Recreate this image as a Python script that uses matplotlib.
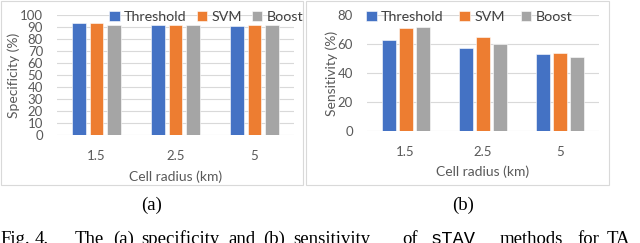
import matplotlib
matplotlib.use("Agg")
import matplotlib.pyplot as plt
from matplotlib.patches import Rectangle
import numpy as np

categories = ["1.5", "2.5", "5"]
methods = ["Threshold", "SVM", "Boost"]
specificity = {"Threshold": [93, 92, 91], "SVM": [93, 92, 92], "Boost": [92, 92, 92]}
sensitivity = {"Threshold": [63, 57, 53], "SVM": [71, 65, 54], "Boost": [72, 60, 51]}
spec_ticks = list(range(0, 101, 10))
sens_ticks = list(range(0, 81, 20))
colors = ["#4472C4", "#ED7D31", "#A5A5A5"]

W, H = 640, 243
fig = plt.figure(figsize=(6.4, 2.43), dpi=100)
plt.rcParams['font.family'] = ['Lato', 'DejaVu Sans']
txtc = "#595959"

def px_axes(x0, x1, ytop, ybot):
    return fig.add_axes([x0 / W, 1 - ybot / H, (x1 - x0) / W, (ybot - ytop) / H])

def draw(ax, data, ticks, ylabel, width, off, ymax, xpad, xlpad):
    x = np.arange(len(categories))
    for i, m in enumerate(methods):
        ax.bar(x + (i - 1) * off, data[m], width, color=colors[i], label=m,
               edgecolor="white", linewidth=0.4, zorder=3)
    ax.set_xlim(-0.5, len(categories) - 0.5)
    ax.set_ylim(0, ymax)
    ax.set_yticks(ticks)
    ax.set_xticks(x)
    ax.set_xticklabels(categories)
    ax.yaxis.grid(True, color="#D9D9D9", linewidth=0.8, zorder=0)
    ax.set_axisbelow(True)
    for s in ax.spines.values():
        s.set_visible(False)
    ax.tick_params(length=0, labelsize=9.5, colors=txtc)
    ax.tick_params(axis="x", pad=xpad)
    ax.tick_params(axis="y", pad=10)
    ax.set_ylabel(ylabel, fontsize=10, color=txtc, labelpad=0)
    ax.set_xlabel("Cell radius (km)", fontsize=10, color=txtc, labelpad=xlpad)

leg_kw = dict(ncol=3, frameon=False, fontsize=10.3, handlelength=0.75, handleheight=0.75,
              handletextpad=0.3, labelcolor="#404040", borderpad=0.1,
              borderaxespad=0, loc="upper left")

ax1 = px_axes(57, 294, 15, 135)
draw(ax1, specificity, spec_ticks, "Specificity (%)", 0.177, 0.22, 100, 11, 6)
ax1.legend(bbox_to_anchor=(0.214, 1.046), columnspacing=0.68, **leg_kw)

ax2 = px_axes(367, 599, 15, 131)
draw(ax2, sensitivity, sens_ticks, "Sensitivity (%)", 0.18, 0.22, 80, 11, 5)
ax2.legend(bbox_to_anchor=(-0.01, 1.05), columnspacing=1.1, **leg_kw)

# panel borders
for (x0, x1) in [(1, 303), (306, 609)]:
    fig.patches.append(Rectangle((x0 / W, 1 - 185 / H), (x1 - x0) / W, 184 / H,
                                 transform=fig.transFigure, fill=False,
                                 edgecolor="#D9D9D9", linewidth=0.8))

serif = ['Liberation Serif', 'DejaVu Serif']
mono = ['Liberation Mono', 'DejaVu Sans Mono']
fig.text(152 / W, 1 - 205.5 / H, "(a)", ha="center", va="center", fontsize=13.5, family=serif)
fig.text(463 / W, 1 - 205.5 / H, "(b)", ha="center", va="center", fontsize=13.5, family=serif)

caption_words = [("Fig.", 0, serif), ("4.", 35, serif), ("The", 75, serif), ("(a)", 113, serif),
                 ("specificity", 141, serif), ("and", 228, serif), ("(b)", 263, serif),
                 ("sensitivity", 293, serif), ("of", 402, serif), ("sTAV", 431, mono),
                 ("methods", 500, serif), ("for", 577, serif), ("TA", 607, serif)]
for w, xp, fam in caption_words:
    fig.text(xp / W, 1 - 244 / H, w, ha="left", va="baseline", fontsize=13.5, family=fam)
fig.savefig("out.png", dpi=100)
